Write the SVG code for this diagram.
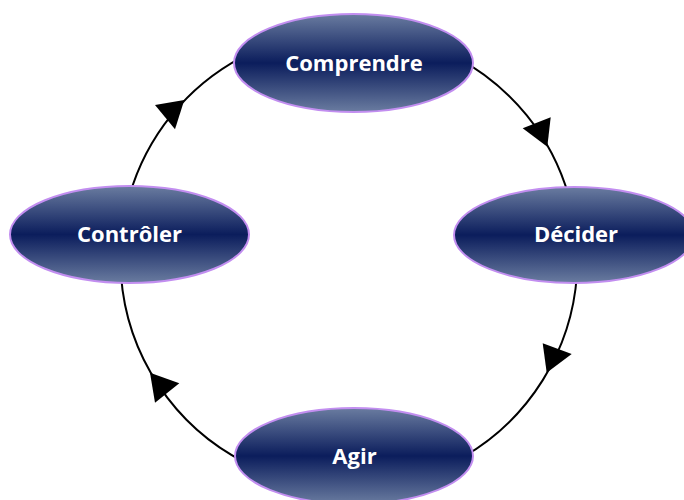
<svg xmlns="http://www.w3.org/2000/svg" width="684" height="500" viewBox="0 0 684 500">
  <defs>
    <linearGradient id="nodeFill" x1="0" y1="0" x2="0" y2="1">
      <stop offset="0" stop-color="#6a7ca0"/>
      <stop offset="0.5" stop-color="#0b1d5c"/>
      <stop offset="1" stop-color="#6a7ca0"/>
    </linearGradient>
  </defs>
  <style>
    .node ellipse { fill: url(#nodeFill); stroke: #c28ef0; stroke-width: 2; }
    .node text { font-family: "Open Sans", "Liberation Sans", sans-serif; font-weight: bold; font-size: 22px; fill: #ffffff; text-anchor: middle; }
    .link { fill: none; stroke: #000000; stroke-width: 2; }
    .head { fill: #000000; stroke: none; }
  </style>
  <rect width="684" height="500" fill="#ffffff"/>

  <!-- cycle connectors: arcs on one circle, centre (349,259), r 228.5 -->
  <g id="connectors">
    <path class="link" d="M129.4 196 A228.5 228.5 0 0 1 241.7 57.3"/>
    <path class="link" d="M456.3 57.3 A228.5 228.5 0 0 1 568.7 196"/>
    <path class="link" d="M576.9 275 A228.5 228.5 0 0 1 463.3 456.9"/>
    <path class="link" d="M245.3 462.6 A228.5 228.5 0 0 1 121 274.9"/>
    <polygon class="head" points="184.3,100 155,105 175,129.3"/>
    <polygon class="head" points="547.3,146.7 522.7,128.3 550.7,117.3"/>
    <polygon class="head" points="546.7,372.7 542.7,343.3 571.7,354"/>
    <polygon class="head" points="150,372.7 179.3,383.3 155,402.7"/>
  </g>

  <g id="comprendre" class="node">
    <ellipse cx="353.5" cy="63" rx="119.5" ry="49"/>
    <text x="354" y="71">Comprendre</text>
  </g>
  <g id="decider" class="node">
    <ellipse cx="574" cy="235" rx="120" ry="48"/>
    <text x="576" y="242">Décider</text>
  </g>
  <g id="agir" class="node">
    <ellipse cx="354" cy="456" rx="119" ry="48"/>
    <text x="354.5" y="463.5">Agir</text>
  </g>
  <g id="controler" class="node">
    <ellipse cx="129.5" cy="234.5" rx="119.5" ry="48.5"/>
    <text x="129.5" y="241.5">Contrôler</text>
  </g>
</svg>
